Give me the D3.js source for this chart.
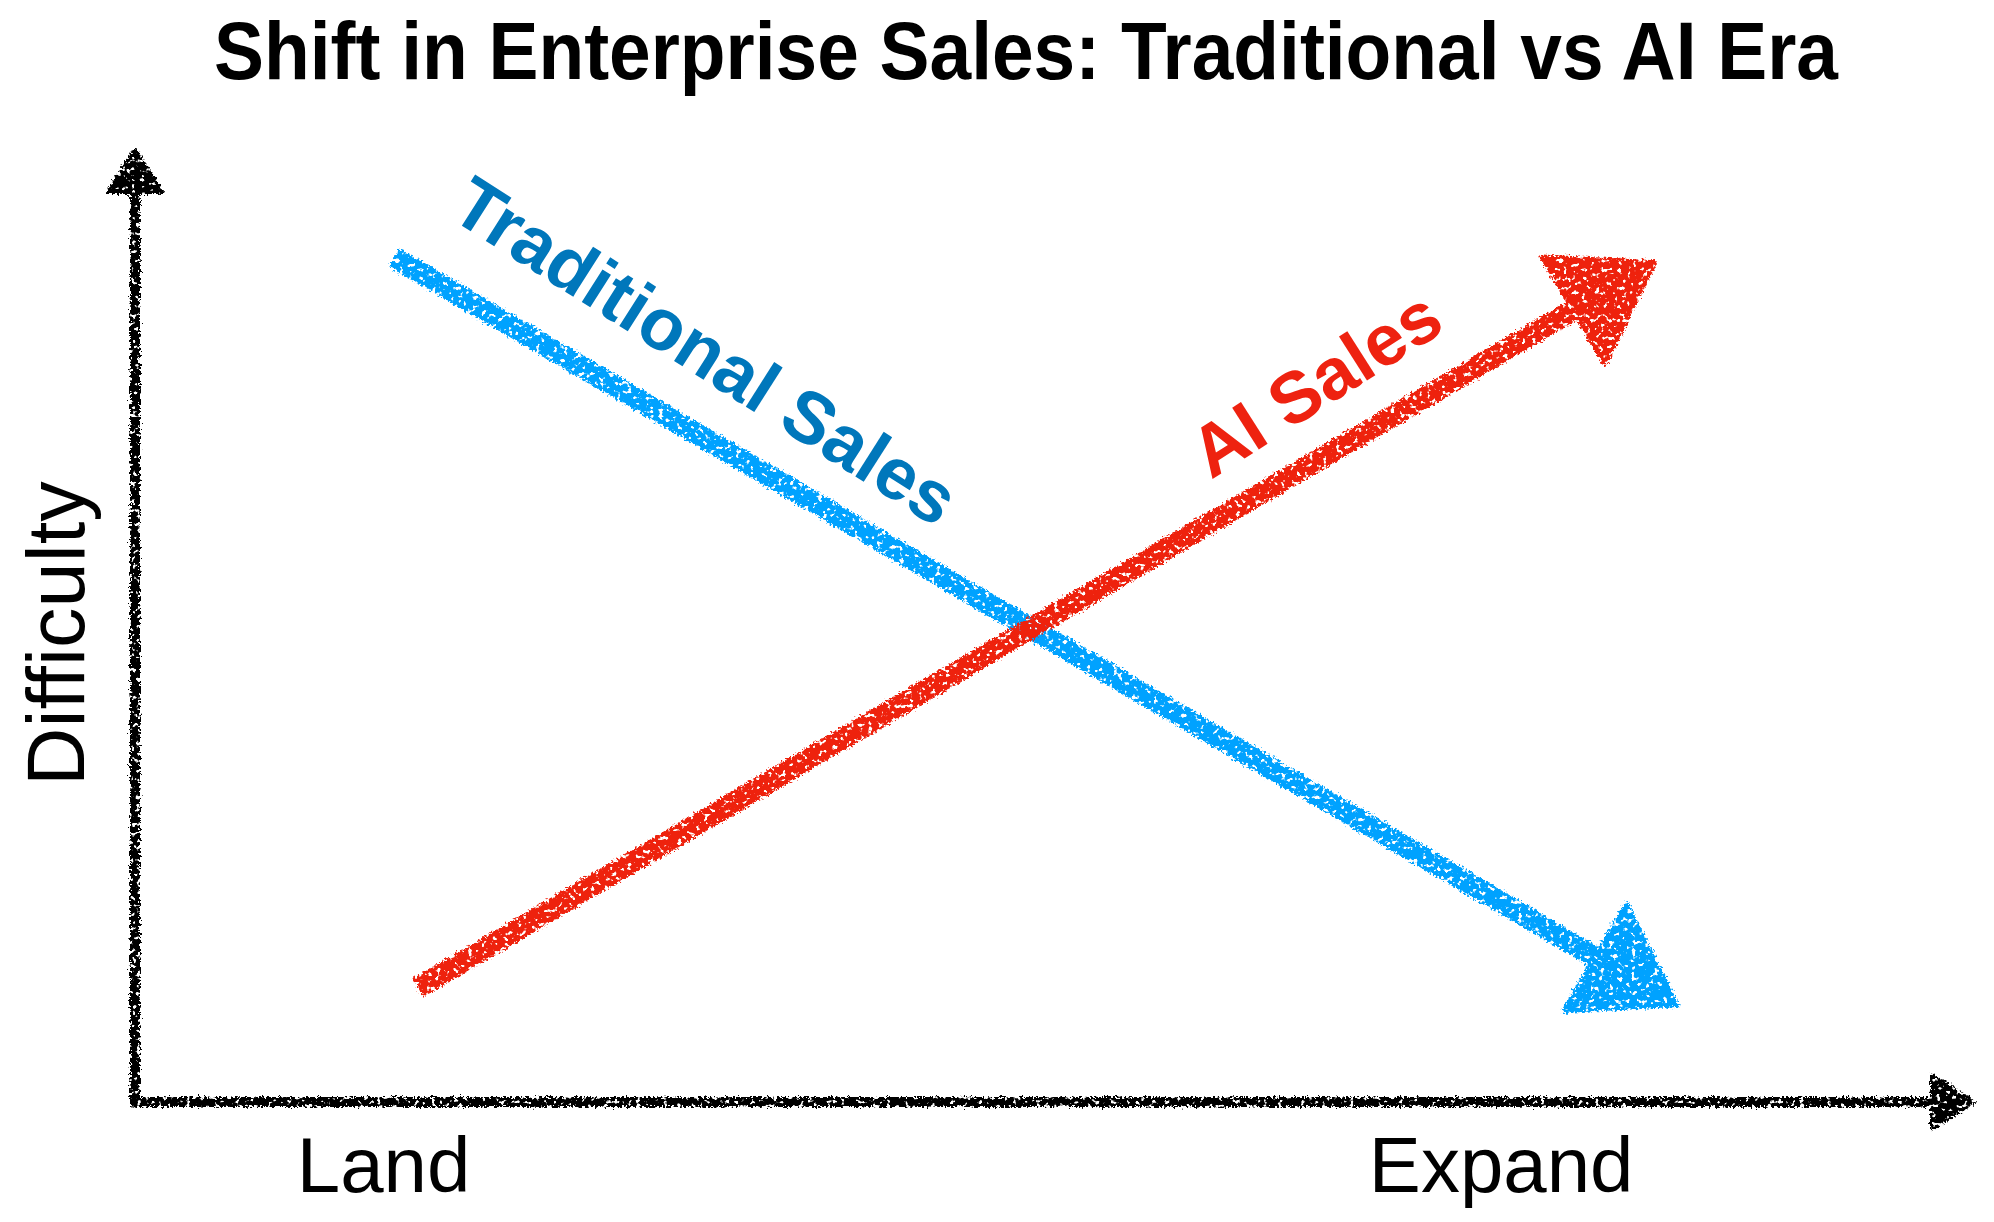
<!DOCTYPE html>
<html lang="en">
<head>
    <meta charset="UTF-8">
    <title>Shift in Enterprise Sales</title>
    <script src="https://d3js.org/d3.v7.min.js"></script>
    <style>
        body { margin: 0; background: #fff; }
        text { font-family: "Liberation Sans", Arial, Helvetica, sans-serif; }
    </style>
</head>
<body>
    <div id="chart"></div>

    <script>
        // Chart data
        var title = "Shift in Enterprise Sales: Traditional vs AI Era";
        var yLabel = "Difficulty";
        var tickLabels = ["Land", "Expand"];
        var tickValues = [1.35, 7.43];

        var seriesNames = ["Traditional Sales", "AI Sales"];
        var seriesStart = [[1.41, 8.87], [1.54, 1.20]];
        var seriesEnd = [[8.39, 1.02], [8.27, 8.82]];
        var lineColors = ["#00a2ff", "#ee2210"];
        var labelColors = ["#0077bb", "#ee2210"];

        var W = 1994, H = 1222;

        var svg = d3.select("#chart")
            .append("svg")
            .attr("width", W)
            .attr("height", H);

        // crayon-ish texture: ragged edges plus a few holes
        var defs = svg.append("defs");
        var f = defs.append("filter")
            .attr("id", "crayon")
            .attr("filterUnits", "userSpaceOnUse")
            .attr("x", 0).attr("y", 0).attr("width", W).attr("height", H);
        f.append("feTurbulence")
            .attr("type", "fractalNoise").attr("baseFrequency", 0.45)
            .attr("numOctaves", 2).attr("seed", 3).attr("result", "n1");
        f.append("feDisplacementMap")
            .attr("in", "SourceGraphic").attr("in2", "n1").attr("scale", 8)
            .attr("xChannelSelector", "R").attr("yChannelSelector", "G")
            .attr("result", "rough");
        f.append("feTurbulence")
            .attr("type", "fractalNoise").attr("baseFrequency", 0.22)
            .attr("numOctaves", 2).attr("seed", 11).attr("result", "n2");
        f.append("feColorMatrix")
            .attr("in", "n2").attr("type", "matrix")
            .attr("values", "0 0 0 0 0  0 0 0 0 0  0 0 0 0 0  10 0 0 0 -3.0")
            .attr("result", "mask");
        f.append("feComposite")
            .attr("in", "rough").attr("in2", "mask").attr("operator", "in");

        var x = d3.scaleLinear().domain([0, 10]).range([135, 1973]);
        var y = d3.scaleLinear().domain([0, 10]).range([1102, 150]);

        // draws a shaft with a filled triangular head, tip at (x1, y1)
        function arrow(g, x0, y0, x1, y1, width, headLen, headWidth, color) {
            var dx = x1 - x0, dy = y1 - y0;
            var len = Math.sqrt(dx * dx + dy * dy);
            var ux = dx / len, uy = dy / len;
            var bx = x1 - ux * headLen, by = y1 - uy * headLen;
            g.append("line")
                .attr("x1", x0).attr("y1", y0)
                .attr("x2", bx + ux * 4).attr("y2", by + uy * 4)
                .attr("stroke", color)
                .attr("stroke-width", width)
                .attr("stroke-linecap", "butt");
            var hw = headWidth / 2;
            g.append("path")
                .attr("d", "M" + x1 + "," + y1 +
                    "L" + (bx - uy * hw) + "," + (by + ux * hw) +
                    "L" + (bx + uy * hw) + "," + (by - ux * hw) + "Z")
                .attr("fill", color)
                .attr("stroke", color)
                .attr("stroke-width", 4)
                .attr("stroke-linejoin", "round");
        }

        // axes drawn as arrows
        var axesG = svg.append("g").attr("filter", "url(#crayon)");
        arrow(axesG, x(0), y(0) + 5, x(0), y(10), 10, 42, 54, "#000");
        arrow(axesG, x(0) - 5, y(0), x(10), y(0), 10, 41, 53, "#000");

        // the two trend arrows
        seriesNames.forEach(function(name, i) {
            var g = svg.append("g").attr("filter", "url(#crayon)");
            arrow(g, x(seriesStart[i][0]), y(seriesStart[i][1]),
                x(seriesEnd[i][0]), y(seriesEnd[i][1]), 21, 95, 125, lineColors[i]);
        });

        // labels along the arrows
        var labelT = [0.213, 0.753];
        var labelOff = [77, 68];
        var labelRot = [32.5, -32.5];
        var labelSize = [73, 72];
        seriesNames.forEach(function(name, i) {
            var x0 = x(seriesStart[i][0]), y0 = y(seriesStart[i][1]);
            var x1 = x(seriesEnd[i][0]), y1 = y(seriesEnd[i][1]);
            var dx = x1 - x0, dy = y1 - y0;
            var len = Math.sqrt(dx * dx + dy * dy);
            // normal pointing upward
            var nx = dy / len, ny = -dx / len;
            if (ny > 0) { nx = -nx; ny = -ny; }
            var px = x0 + dx * labelT[i] + nx * labelOff[i];
            var py = y0 + dy * labelT[i] + ny * labelOff[i];
            svg.append("text")
                .attr("transform", "translate(" + px + "," + py + ") rotate(" + labelRot[i] + ")")
                .attr("text-anchor", "middle")
                .attr("dy", "0.36em")
                .attr("font-size", labelSize[i])
                .attr("font-weight", "bold")
                .attr("fill", labelColors[i])
                .text(name);
        });

        // x tick labels
        var xAxis = d3.axisBottom(x)
            .tickValues(tickValues)
            .tickFormat(function(d, i) { return tickLabels[i]; })
            .tickSize(0)
            .tickPadding(0);
        var ax = svg.append("g")
            .attr("transform", "translate(0," + 1192 + ")")
            .call(xAxis);
        ax.select(".domain").remove();
        ax.selectAll("text")
            .attr("dy", 0)
            .attr("y", 0)
            .attr("fill", "#000")
            .style("font-family", "'Liberation Sans', Arial, Helvetica, sans-serif")
            .style("font-size", "78px");

        // y label
        svg.append("text")
            .attr("transform", "translate(84," + y(4.92) + ") rotate(-90)")
            .attr("text-anchor", "middle")
            .attr("font-size", 81)
            .attr("fill", "#000")
            .text(yLabel);

        // title
        svg.append("text")
            .attr("x", 1026)
            .attr("y", 79)
            .attr("text-anchor", "middle")
            .attr("font-size", 82)
            .attr("font-weight", "bold")
            .attr("textLength", 1624)
            .attr("lengthAdjust", "spacingAndGlyphs")
            .attr("fill", "#000")
            .text(title);
    </script>
</body>
</html>
